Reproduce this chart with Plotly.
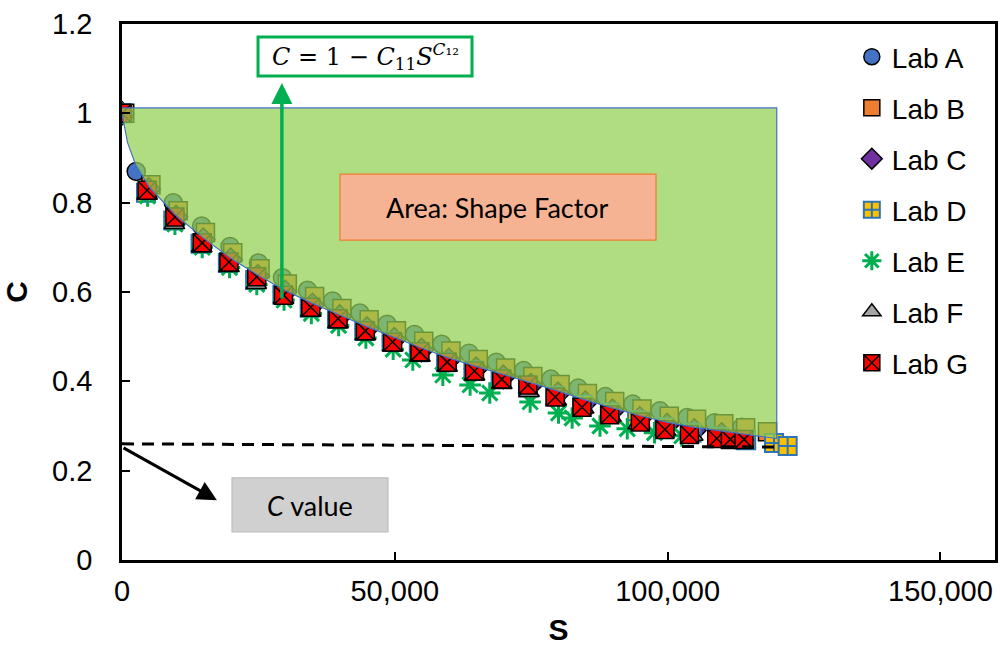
import plotly.graph_objects as go

# ---------------- data ----------------
labs = ["Lab A", "Lab B", "Lab C", "Lab D", "Lab E", "Lab F", "Lab G"]

S_A = [0, 2600, 9400, 14600, 19800, 25000, 29400, 34000, 38600, 43600, 48600, 53600,
       58600, 63600, 68600, 73600, 78600, 83600, 88600, 93600, 98600, 103600, 108600, 113600]
C_A = [1.0, 0.87, 0.80, 0.748, 0.702, 0.665, 0.632, 0.604, 0.58, 0.553, 0.528, 0.505,
       0.483, 0.463, 0.443, 0.424, 0.405, 0.385, 0.366, 0.349, 0.334, 0.319, 0.307, 0.297]

S_B = [500, 5300, 10300, 15300, 20300, 25300, 30300, 35300, 40300, 45300, 50300, 55300, 60300,
       65300, 70300, 75300, 80300, 85300, 90300, 95300, 100300, 105300, 110300, 114300, 118300]
C_B = [1.0, 0.84, 0.782, 0.733, 0.688, 0.652, 0.618, 0.59, 0.563, 0.538, 0.513, 0.49, 0.468,
       0.449, 0.43, 0.411, 0.393, 0.373, 0.355, 0.338, 0.322, 0.315, 0.305, 0.296, 0.287]

S_C = [0, 4900, 9900, 14900, 19900, 24900, 29900, 34900, 39900, 44900, 49900, 54900,
       59900, 64900, 69900, 74900, 79900, 84900, 89900, 94900, 99900, 104900, 109900]
C_C = [1.0, 0.83, 0.768, 0.717, 0.672, 0.635, 0.6, 0.571, 0.545, 0.518, 0.494, 0.47,
       0.448, 0.428, 0.41, 0.391, 0.372, 0.352, 0.334, 0.317, 0.302, 0.29, 0.281]

S_D = [0, 4400, 9400, 14400, 19400, 24400, 29400, 34400, 39400, 44400, 49400, 54400, 59400,
       64400, 69400, 74400, 79400, 84400, 89400, 94400, 99400, 104400, 109400, 114400, 119500, 122000]
C_D = [1.0, 0.822, 0.76, 0.708, 0.665, 0.627, 0.594, 0.565, 0.54, 0.513, 0.489, 0.465, 0.443,
       0.424, 0.405, 0.386, 0.367, 0.348, 0.33, 0.313, 0.298, 0.285, 0.276, 0.268, 0.262, 0.255]

S_E = [0, 4700, 9700, 14700, 19700, 24700, 29700, 34700, 39700, 44700, 49700, 53300,
       58800, 63800, 67400, 74800, 80000, 82500, 87600, 92600, 97600, 102600]
C_E = [1.0, 0.815, 0.752, 0.7, 0.655, 0.617, 0.582, 0.552, 0.525, 0.497, 0.472, 0.448,
       0.414, 0.392, 0.374, 0.354, 0.329, 0.318, 0.3, 0.294, 0.285, 0.278]

S_F = [0, 4600, 9600, 14600, 19600, 24600, 29600, 34600, 39600, 44600, 49600, 54600,
       59600, 64600, 69600, 74600, 79600, 84600, 89600, 94600, 99600, 104600, 109600]
C_F = [1.0, 0.818, 0.752, 0.70, 0.656, 0.618, 0.585, 0.556, 0.53, 0.503, 0.478, 0.455,
       0.433, 0.413, 0.394, 0.376, 0.357, 0.339, 0.321, 0.304, 0.29, 0.278, 0.27]

S_G = [0, 4600, 9700, 14700, 19600, 24700, 29600, 34600, 39600, 44600, 49600, 54600, 59600,
       64600, 69600, 74400, 79400, 84300, 89400, 95000, 99500, 104000, 109000, 111500, 114000]
C_G = [1.0, 0.828, 0.768, 0.71, 0.667, 0.634, 0.593, 0.566, 0.54, 0.513, 0.488, 0.466, 0.443,
       0.423, 0.405, 0.392, 0.365, 0.342, 0.325, 0.309, 0.292, 0.281, 0.272, 0.27, 0.27]

# fitted curve C = 1 - C11*S^C12
S_fit = [0, 1000, 2500, 5000, 10000, 15000, 20000, 25000, 30000, 35000, 40000, 45000, 50000,
         55000, 60000, 65000, 70000, 75000, 80000, 85000, 90000, 95000, 100000, 105000,
         110000, 115000, 120000]
C_fit = [1.0, 0.935, 0.885, 0.835, 0.77, 0.72, 0.675, 0.637, 0.603, 0.574, 0.548, 0.522, 0.498,
         0.474, 0.452, 0.433, 0.415, 0.397, 0.378, 0.358, 0.34, 0.323, 0.308, 0.297,
         0.288, 0.28, 0.272]
area_top = 1.012

# C value (dashed asymptote)
S_cval = [0, 120000]
C_cval = [0.26, 0.253]

x_ticks = [0, 50000, 100000, 150000]
x_tick_text = ["0", "50,000", "100,000", "150,000"]
y_ticks = [0, 0.2, 0.4, 0.6, 0.8, 1.0, 1.2]
y_tick_text = ["0", "0.2", "0.4", "0.6", "0.8", "1", "1.2"]

# ---------------- styles ----------------
series = [
    (S_A, C_A, dict(symbol="circle", color="#4472C4", line=dict(color="black", width=1.5))),
    (S_B, C_B, dict(symbol="square", color="#ED7D31", line=dict(color="black", width=1.5))),
    (S_C, C_C, dict(symbol="diamond", color="#7030A0", line=dict(color="black", width=1.5))),
    (S_D, C_D, dict(symbol="square-cross", color="#FFC000", line=dict(color="#2E75B6", width=2))),
    (S_E, C_E, dict(symbol="asterisk-open", color="#00B050", line=dict(color="#00B050", width=3))),
    (S_F, C_F, dict(symbol="triangle-up", color="#A5A5A5", line=dict(color="black", width=1.5))),
    (S_G, C_G, dict(symbol="square-x", color="#FF0000", line=dict(color="black", width=1.5))),
]

fig = go.Figure()
for name, (sx, cy, mk) in zip(labs, series):
    fig.add_trace(go.Scatter(
        x=sx, y=cy, mode="markers", name=name, legendgroup=name,
        marker=dict(size=18, **mk),
    ))

# shaded area (shape factor)
poly_x = [S_fit[0], S_fit[-1]] + S_fit[::-1]
poly_y = [area_top, area_top] + C_fit[::-1]
fig.add_trace(go.Scatter(
    x=poly_x, y=poly_y, mode="lines", fill="toself",
    fillcolor="rgba(146,208,80,0.72)", line=dict(color="#4472C4", width=1.2),
    showlegend=False, hoverinfo="skip",
))

fig.add_trace(go.Scatter(
    x=S_cval, y=C_cval, mode="lines",
    line=dict(color="black", width=3, dash="12px,8px"),
    showlegend=False, hoverinfo="skip",
))

# ---------------- annotations / shapes ----------------
shapes = [
    dict(type="rect", xref="x", yref="y", x0=24930, x1=64150, y0=1.0836, y1=1.171,
         line=dict(color="#00B050", width=3), fillcolor="white", layer="above"),
    dict(type="rect", xref="x", yref="y", x0=39950, x1=97870, y0=0.716, y1=0.864,
         line=dict(color="#ED7D31", width=1.2), fillcolor="#F6B393", layer="above"),
    dict(type="rect", xref="x", yref="y", x0=20160, x1=48750, y0=0.063, y1=0.184,
         line=dict(color="#BFBFBF", width=1.2), fillcolor="#D0D0D0", layer="above"),
]

annotations = [
    dict(x=44540, y=1.127, xref="x", yref="y", showarrow=False,
         text="<i>C</i> = 1 − <i>C</i><sub>11</sub><i>S</i><sup><i>C</i>₁₂</sup>",
         font=dict(family="DejaVu Serif", size=24, color="black")),
    dict(x=68900, y=0.79, xref="x", yref="y", showarrow=False,
         text="Area: Shape Factor", font=dict(family="Lato", size=27, color="black")),
    dict(x=34450, y=0.123, xref="x", yref="y", showarrow=False,
         text="<i>C</i> value", font=dict(family="Lato", size=27, color="black")),
    dict(x=29300, y=1.068, ax=29300, ay=0.582, xref="x", yref="y", axref="x", ayref="y",
         showarrow=True, arrowhead=2, arrowsize=1.2, arrowwidth=3.5, arrowcolor="#00B050", text=""),
    dict(x=17400, y=0.134, ax=0, ay=0.253, xref="x", yref="y", axref="x", ayref="y",
         showarrow=True, arrowhead=2, arrowsize=1.3, arrowwidth=3, arrowcolor="black", text=""),
]

axis_common = dict(
    showline=True, linecolor="black", linewidth=2.5, mirror=True,
    ticks="inside", ticklen=8, tickwidth=2, tickcolor="black",
    showgrid=False, zeroline=False, automargin=False,
    tickfont=dict(family="Liberation Sans, Arial", size=29, color="black"),
)

fig.update_layout(
    width=1000, height=647,
    margin=dict(l=122, r=5, t=24, b=87),
    paper_bgcolor="white", plot_bgcolor="white",
    xaxis=dict(range=[0, 160000], tickvals=x_ticks, ticktext=x_tick_text,
               ticklabelstandoff=3,
               title=dict(text="<b>S</b>", standoff=14,
                          font=dict(family="Liberation Sans, Arial", size=30, color="black")),
               **axis_common),
    yaxis=dict(range=[0, 1.2], tickvals=y_ticks, ticktext=y_tick_text,
               ticklabelstandoff=21,
               title=dict(text="<b>C</b>", standoff=23,
                          font=dict(family="Liberation Sans, Arial", size=30, color="black")),
               **axis_common),
    legend=dict(x=0.836, y=0.985, xanchor="left", yanchor="top",
                bgcolor="rgba(0,0,0,0)", borderwidth=0,
                font=dict(family="Liberation Sans, Arial", size=28, color="black"),
                tracegroupgap=11.6, itemwidth=30),
    shapes=shapes, annotations=annotations,
    showlegend=True,
)

fig.write_html("out.html", config={"displayModeBar": False},
               post_script="document.body.style.margin='0';document.body.style.overflow='hidden';")
